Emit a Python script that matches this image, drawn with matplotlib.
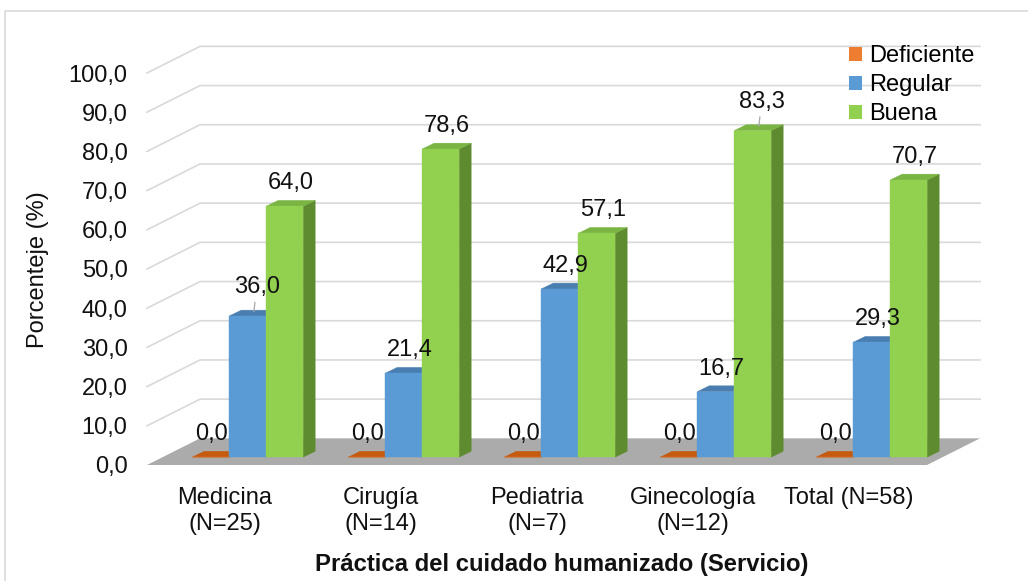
import matplotlib
matplotlib.use("Agg")
import matplotlib.pyplot as plt
from matplotlib.patches import Polygon, Patch
from matplotlib.lines import Line2D

plt.rcParams['font.family'] = ['Liberation Sans', 'DejaVu Sans']

# data
categories = ["Medicina\n(N=25)", "Cirugía\n(N=14)", "Pediatria\n(N=7)",
              "Ginecología\n(N=12)", "Total (N=58)"]
series = ["Deficiente", "Regular", "Buena"]
deficiente = [0.0, 0.0, 0.0, 0.0, 0.0]
regular = [36.0, 21.4, 42.9, 16.7, 29.3]
buena = [64.0, 78.6, 57.1, 83.3, 70.7]
yticks = [0, 10, 20, 30, 40, 50, 60, 70, 80, 90, 100]

# styles: front, side, top
faces = [("#ED7D31", "#AE5A21", "#C55A11"),
         ("#5B9BD5", "#41719C", "#4A7EB0"),
         ("#92D050", "#5F8B30", "#7AB443")]
leaders = [(1, 0), (2, 3)]  # (series, category) labels drawn with a leader line

# fake 3D geometry (data units)
DX, DY = 0.34, 6.8      # depth of the floor / walls
W = 0.237               # bar width
X0 = -0.21              # first bar left edge relative to category
BY = 2.0                # bar base (bars sit a bit back on the floor)
SX, SY = 0.077, 1.5     # bar depth

fig = plt.figure(figsize=(10.28, 5.81), dpi=100)
ax = fig.add_axes([147 / 1028, 116 / 581, 780 / 1028, 392 / 581])
ax.set_xlim(-0.5, 4.5)
ax.set_ylim(0, 100)
for s in ax.spines.values():
    s.set_visible(False)

# floor
floor = Polygon([(-0.5, 0), (4.5, 0), (4.5 + DX, DY), (-0.5 + DX, DY)],
                closed=True, facecolor="#ABABAB", edgecolor="none",
                clip_on=False, zorder=1)
ax.add_patch(floor)

# back wall gridlines
for v in yticks[1:]:
    ax.plot([-0.5, -0.5 + DX, 4.5 + DX], [v, v + DY, v + DY],
            color="#D9D9D9", lw=1.2, clip_on=False, zorder=0.5)

values = [deficiente, regular, buena]
for i in range(len(categories)):
    for k in range(len(series)):
        v = values[k][i]
        x = i + X0 + k * W
        front, side, top = faces[k]
        y0, y1 = BY, BY + v
        # side face
        ax.add_patch(Polygon([(x + W, y0), (x + W + SX, y0 + SY),
                              (x + W + SX, y1 + SY), (x + W, y1)],
                             facecolor=side, edgecolor=side, lw=0.3,
                             clip_on=False, zorder=2))
        # top face
        ax.add_patch(Polygon([(x, y1), (x + W, y1), (x + W + SX, y1 + SY),
                              (x + SX, y1 + SY)],
                             facecolor=top, edgecolor=top, lw=0.3,
                             clip_on=False, zorder=2))
        # front face
        ax.add_patch(Polygon([(x, y0), (x + W, y0), (x + W, y1), (x, y1)],
                             facecolor=front, edgecolor=front, lw=0.3,
                             clip_on=False, zorder=2))
        lbl = ("%.1f" % v).replace(".", ",")
        if (k, i) in leaders:
            ax.annotate(lbl, xy=(x + W / 2 + SX / 2, y1 + SY / 2),
                        xytext=(3, 15), textcoords="offset pixels",
                        ha="center", va="bottom", fontsize=17, color="#111111",
                        arrowprops=dict(arrowstyle="-", color="#A6A6A6", lw=0.9,
                                        shrinkA=1, shrinkB=1),
                        annotation_clip=False, zorder=5)
        else:
            dx = 1 if v == 0 else 6
            ax.annotate(lbl, xy=(x + W / 2, y1), xytext=(dx, 12),
                        textcoords="offset pixels", ha="center", va="bottom",
                        fontsize=17, color="#111111", annotation_clip=False,
                        zorder=5)

ax.set_yticks(yticks)
ax.set_yticklabels([("%.1f" % t).replace(".", ",") for t in yticks],
                   fontsize=17, color="#111111")
ax.set_xticks(range(len(categories)))
ax.set_xticklabels(categories, fontsize=17, color="#111111",
                   multialignment="center", linespacing=1.2)
ax.tick_params(axis="both", length=0)
ax.tick_params(axis="y", pad=14)
ax.tick_params(axis="x", pad=16)

fig.text(38 / 1028, 1 - 270 / 581, "Porcenteje (%)", rotation=90,
         ha="center", va="center", fontsize=17, color="#111111")
fig.text(562 / 1028, 1 - 565 / 581, "Práctica del cuidado humanizado (Servicio)",
         ha="center", va="center", fontsize=17.2, fontweight="bold",
         color="#111111")

handles = [Patch(facecolor=f[0], edgecolor="none") for f in faces]
leg = ax.legend(handles, series, loc="upper left",
                bbox_to_anchor=(849 / 1028, 1 - 45 / 581),
                bbox_transform=fig.transFigure, frameon=False, fontsize=17,
                handlelength=0.55, handleheight=0.55, handletextpad=0.3,
                labelspacing=0.3, borderpad=0, borderaxespad=0)
leg.set_zorder(6)

# outer chart frame (only top and left visible)
fig.add_artist(Line2D([5 / 1028, 5 / 1028, 1], [0, 1 - 11 / 581, 1 - 11 / 581],
                      transform=fig.transFigure, color="#D9D9D9", lw=1.2))

fig.savefig("out.png", dpi=100)
